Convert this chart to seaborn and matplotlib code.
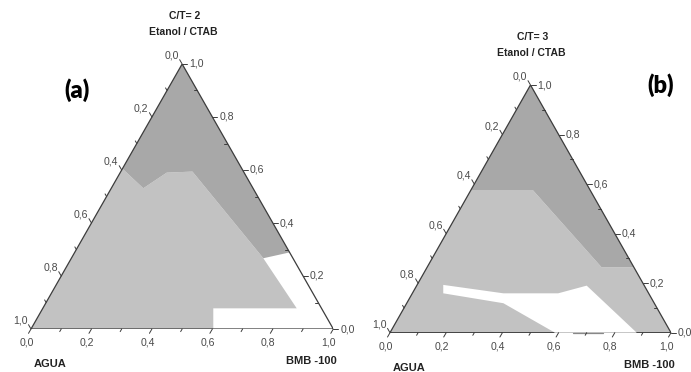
import numpy as np
import matplotlib
matplotlib.use("Agg")
import matplotlib.pyplot as plt
import seaborn as sns
import pandas as pd

# ---------------- data (ternary compositions: BMB-100 fraction, Etanol/CTAB fraction) ----------------
A_DARK_BMB = [0.0, 0.0, 0.106, 0.154, 0.237, 0.635, 0.711]
A_DARK_ETA = [1.0, 0.605, 0.531, 0.590, 0.594, 0.267, 0.289]
A_LIGHT_BMB = [0.0, 0.603, 0.564, 0.840, 0.635, 0.237, 0.154, 0.106, 0.0]
A_LIGHT_ETA = [0.0, 0.0, 0.078, 0.078, 0.267, 0.594, 0.590, 0.531, 0.605]

B_DARK_BMB = [0.0, 0.0, 0.220, 0.621, 0.736]
B_DARK_ETA = [1.0, 0.576, 0.576, 0.264, 0.264]
B_LIGHT_BMB = [0.0, 1.0, 0.736, 0.621, 0.220, 0.0]
B_LIGHT_ETA = [0.0, 0.0, 0.264, 0.264, 0.576, 0.576]
B_WHITE_BMB = [0.093, 0.324, 0.519, 0.605, 0.878, 0.587, 0.344, 0.110]
B_WHITE_ETA = [0.193, 0.159, 0.159, 0.190, 0.0, 0.0, 0.119, 0.159]
B_SEG_BMB = [0.651, 0.758]
B_SEG_ETA = [0.0, 0.0]

TICK_VALUES = [0.0, 0.1, 0.2, 0.3, 0.4, 0.5, 0.6, 0.7, 0.8, 0.9, 1.0]
TITLES = ["C/T= 2", "C/T= 3"]
SUBTITLE = "Etanol / CTAB"
PANEL_TAGS = ["(a)", "(b)"]
CORNER_LEFT = "AGUA"
CORNER_RIGHT = "BMB -100"

LIGHT = "#c2c2c2"
DARK = "#a8a8a8"
EDGE = "#3c3c3c"
TICKC = "#4a4a4a"

sns.set_theme(style="white")
plt.rcParams['font.family'] = ['Liberation Sans', 'DejaVu Sans']

W, H = 691, 372
fig = plt.figure(figsize=(W / 100, H / 100), dpi=100)
S3 = np.sqrt(3) / 2


def tern(bmb, eta):
    b = np.asarray(bmb, float)
    e = np.asarray(eta, float)
    return b + e / 2, e * S3


def make_ax(left, bottom_y, w, h):
    ax = fig.add_axes([left / W, (H - bottom_y) / H, w / W, h / H])
    ax.set_xlim(0, 1)
    ax.set_ylim(0, S3)
    ax.axis('off')
    ax.sx = w
    ax.sy = h / S3
    return ax


def fmt(v):
    return f"{v:.1f}".replace('.', ',')


def draw_frame(ax, z=2):
    fx, fy = tern([0, 1, 0, 0], [0, 0, 1, 0])
    df = pd.DataFrame({"x": fx, "y": fy})
    sns.lineplot(data=df, x="x", y="y", sort=False, estimator=None, ax=ax,
                 color=EDGE, lw=0.9, zorder=z)
    ax.axis('off')


def draw_ticks(ax):
    kw = dict(color=EDGE, lw=0.7, clip_on=False, zorder=5)
    tkw = dict(textcoords='offset pixels', fontsize=7.6, color=TICKC, annotation_clip=False)
    for i, v in enumerate(TICK_VALUES):
        major = (i % 2 == 0)
        L = 5 if major else 3
        # bottom axis (BMB-100)
        x0, y0 = tern(v, 0)
        d = (-0.5, -0.866)
        x1, y1 = x0 + L * d[0] / ax.sx, y0 + L * d[1] / ax.sy
        ax.plot([x0, x1], [y0, y1], **kw)
        if major:
            ax.annotate(fmt(v), (x1, y1), xytext=(-2, -4), ha='center', va='top', **tkw)
        # right axis (Etanol/CTAB)
        x0, y0 = tern(1 - v, v)
        sgn = 1 if major else -1
        x1, y1 = x0 + sgn * L / ax.sx, y0
        ax.plot([x0, x1], [y0, y1], **kw)
        if major:
            ax.annotate(fmt(v), (x1, y1), xytext=(2, 0), ha='left', va='center', **tkw)
        # left axis (AGUA)
        x0, y0 = tern(0, 1 - v)
        d = (-0.5, 0.866)
        x1, y1 = x0 + L * d[0] / ax.sx, y0 + L * d[1] / ax.sy
        ax.plot([x0, x1], [y0, y1], **kw)
        if major:
            ax.annotate(fmt(v), (x1, y1), xytext=(-1, -1), ha='right', va='bottom', **tkw)


def draw_texts(ax, idx, tag_off):
    tx, ty = tern(0, 1)
    bkw = dict(textcoords='offset pixels', fontsize=7.5, fontweight='bold', color='#222222',
               ha='center', va='center', annotation_clip=False)
    ax.annotate(TITLES[idx], (tx, ty), xytext=(2, 48), **bkw)
    ax.annotate(SUBTITLE, (tx, ty), xytext=(1, 32), **bkw)
    ax.annotate(PANEL_TAGS[idx], (tx, ty), xytext=tag_off, textcoords='offset pixels',
                fontsize=17, fontweight='heavy', family=['Lato', 'DejaVu Sans'], color='black',
                ha='center', va='center', annotation_clip=False)
    lkw = dict(textcoords='offset pixels', fontsize=8, fontweight='bold', color='#222222',
               ha='center', va='center', annotation_clip=False)
    ax.annotate(CORNER_LEFT, tern(0, 0), xytext=(19, -35), **lkw)
    ax.annotate(CORNER_RIGHT, tern(1, 0), xytext=(-22, -32), **lkw)


# ---------------- panel (a) ----------------
axa = make_ax(31, 329, 302.3, 265)
axa.fill(*tern(A_LIGHT_BMB, A_LIGHT_ETA), color=LIGHT, lw=0, zorder=1)
axa.fill(*tern(A_DARK_BMB, A_DARK_ETA), color=DARK, lw=0, zorder=1)
draw_frame(axa)
draw_ticks(axa)
draw_texts(axa, 0, (-105, -26))

# ---------------- panel (b) ----------------
axb = make_ax(390, 332.7, 281, 247.7)
axb.fill(*tern(B_LIGHT_BMB, B_LIGHT_ETA), color=LIGHT, lw=0, zorder=1)
axb.fill(*tern(B_DARK_BMB, B_DARK_ETA), color=DARK, lw=0, zorder=1)
draw_frame(axb)
axb.fill(*tern(B_WHITE_BMB, B_WHITE_ETA), color='white', lw=0, zorder=3, clip_on=False)
axb.plot(*tern(B_SEG_BMB, B_SEG_ETA), color='#888888', lw=0.9, zorder=4, clip_on=False)
draw_ticks(axb)
draw_texts(axb, 1, (130, 0))

fig.savefig("out.png", dpi=100)
